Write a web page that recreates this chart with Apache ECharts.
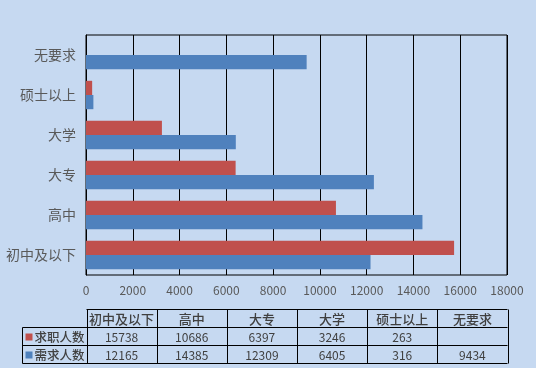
<!DOCTYPE html>
<html><head><meta charset="utf-8">
<script src="https://cdn.jsdelivr.net/npm/echarts@6/dist/echarts.min.js"></script>
<style>html,body{margin:0;padding:0;background:#C6D9F1}#c{width:536px;height:368px}</style>
</head><body><div id="c"></div>
<script>
const categories = ['初中及以下', '高中', '大专', '大学', '硕士以上', '无要求'];
const seriesNames = ['求职人数', '需求人数'];
const seekers = [15738, 10686, 6397, 3246, 263, null];
const demand = [12165, 14385, 12309, 6405, 316, 9434];
const seriesColors = ['#C0504D', '#4F81BD'];

const G = {left: 86, top: 35, width: 421, height: 240};
const FONT = '"Noto Sans CJK SC", "Noto Sans", sans-serif';
const TXT = '#404040';

// data table under the chart
const tableTop = 308.5, rowH = 18.3, legendLeft = 22.5;
const x0 = G.left + 0.5, x1 = G.left + G.width + 0.5;
const colW = (x1 - x0) / categories.length;
const graphic = [];
const line = (ax, ay, bx, by) => graphic.push({type: 'line', shape: {x1: ax, y1: ay, x2: bx, y2: by}, style: {stroke: '#000', lineWidth: 1}, silent: true});
const rows = [seekers, demand];
const yr = i => Math.round(tableTop + i * rowH) + 0.5;
line(x0, yr(0), x1, yr(0));
line(legendLeft, yr(1), x1, yr(1));
line(legendLeft, yr(2), x1, yr(2));
line(legendLeft, yr(3), x1, yr(3));
line(legendLeft, yr(1), legendLeft, yr(3));
for (let c = 0; c <= categories.length; c++) {
  const x = Math.round(x0 + c * colW) + 0.5;
  line(x, yr(0), x, yr(3));
}
categories.forEach((cat, c) => {
  graphic.push({type: 'text', x: x0 + (c + 0.5) * colW, y: (yr(0) + yr(1)) / 2 + 0.5, silent: true,
    style: {text: cat, font: '500 13px ' + FONT, fill: TXT, align: 'center', verticalAlign: 'middle'}});
});
rows.forEach((vals, r) => {
  const cy = (yr(r + 1) + yr(r + 2)) / 2 + 0.5;
  graphic.push({type: 'rect', shape: {x: legendLeft + 3, y: cy - 3.5, width: 7, height: 7}, style: {fill: seriesColors[r]}, silent: true});
  graphic.push({type: 'text', x: legendLeft + 12, y: cy, silent: true,
    style: {text: seriesNames[r], font: '500 12.5px ' + FONT, fill: TXT, align: 'left', verticalAlign: 'middle'}});
  vals.forEach((v, c) => {
    if (v == null) return;
    graphic.push({type: 'text', x: x0 + (c + 0.5) * colW, y: cy, silent: true,
      style: {text: String(v), font: '12px ' + FONT, fill: TXT, align: 'center', verticalAlign: 'middle'}});
  });
});

const chart = echarts.init(document.getElementById('c'));
chart.setOption({
  backgroundColor: '#C6D9F1',
  animation: false,
  grid: {left: G.left, top: G.top, width: G.width, height: G.height, show: true, borderColor: '#000', borderWidth: 1, backgroundColor: 'transparent'},
  xAxis: {type: 'value', min: 0, max: 18000, interval: 2000,
    axisLine: {show: false}, axisTick: {show: false},
    axisLabel: {color: '#595959', fontSize: 12, fontFamily: FONT, margin: 9, formatter: v => String(v)},
    splitLine: {lineStyle: {color: '#000', width: 1}}},
  yAxis: {type: 'category', data: categories,
    axisLine: {lineStyle: {color: '#000'}}, axisTick: {show: false},
    axisLabel: {color: '#595959', fontSize: 14, fontFamily: FONT, margin: 10}},
  series: [
    {name: seriesNames[0], type: 'bar', data: seekers, itemStyle: {color: seriesColors[0]}, barGap: '0%', barCategoryGap: '29%'},
    {name: seriesNames[1], type: 'bar', data: demand, itemStyle: {color: seriesColors[1]}, barGap: '0%', barCategoryGap: '29%'}
  ],
  graphic: graphic
});
</script></body></html>
